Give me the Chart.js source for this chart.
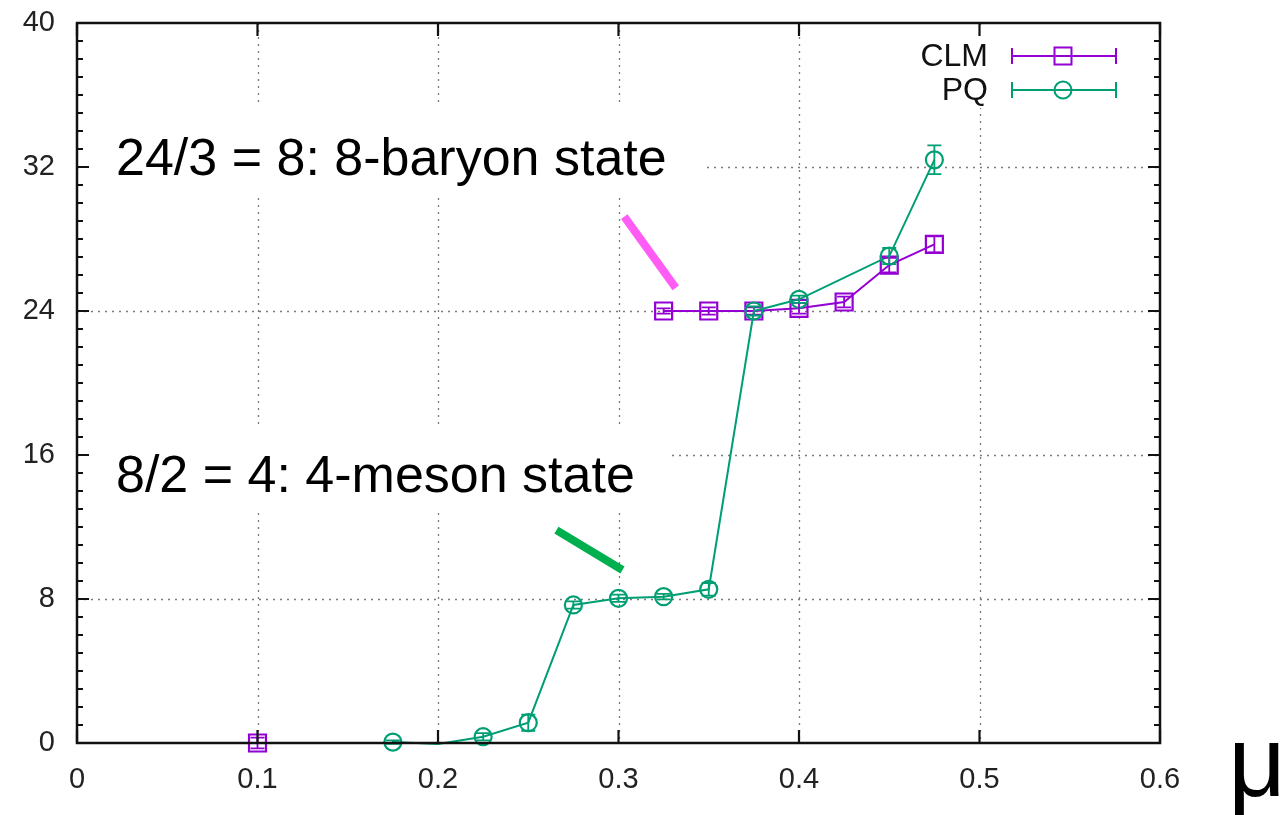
<!DOCTYPE html>
<html>
<head>
<meta charset="utf-8">
<title>CLM vs PQ number density</title>
<script src="https://cdn.jsdelivr.net/npm/chart.js@4.4.1/dist/chart.umd.min.js"></script>
<style>
  html, body { margin: 0; padding: 0; background: #fff; }
  canvas { display: block; }
</style>
</head>
<body>
<canvas id="densityChart" width="1284" height="815"></canvas>
<script>
(function() {
  'use strict';

  // Chemical potential and measured value per method, with error sizes
  const muCLM  = [0.1, 0.325, 0.35, 0.375, 0.4, 0.425, 0.45, 0.475];
  const valCLM = [0.0, 24.0, 24.0, 24.0, 24.15, 24.5, 26.55, 27.7];
  const errCLM = [0.3, 0.15, 0.2, 0.2, 0.3, 0.3, 0.4, 0.45];

  const muPQ  = [0.175, 0.2, 0.225, 0.25, 0.275, 0.3, 0.325, 0.35, 0.375, 0.4, 0.45, 0.475];
  const valPQ = [0.05, -0.05, 0.35, 1.13, 7.67, 8.04, 8.13, 8.54, 24.0, 24.65, 27.05, 32.4];
  const errPQ = [0.1, 0.05, 0.2, 0.45, 0.2, 0.2, 0.15, 0.35, 0.25, 0.2, 0.45, 0.8];

  const xTicks = [0, 0.1, 0.2, 0.3, 0.4, 0.5, 0.6];
  const yTicks = [0, 8, 16, 24, 32, 40];

  const PURPLE = '#9400d3';
  const GREEN = '#009e73';
  const FONT = '"Liberation Sans", Arial, Helvetica, sans-serif';

  const toPoints = (xs, ys, es) => xs.map((x, i) => ({ x: x, y: ys[i], err: es[i] }));

  // gnuplot-style: hide markers that fall outside the y range
  const markerRadius = r => ctx => (ctx.raw && ctx.raw.y < 0 ? 0 : r);
  // no line across the jump between separate runs
  const skipWideGaps = ctx => (ctx.p1.parsed.x - ctx.p0.parsed.x > 0.1 ? 'rgba(0,0,0,0)' : undefined);

  // Text annotations: text, left x, baseline y, white box behind it
  const notes = [
    { text: '24/3 = 8: 8-baryon state', x: 116, y: 175, box: [82, 105, 620, 88] },
    { text: '8/2 = 4: 4-meson state', x: 116, y: 492, box: [82, 426, 588, 87] }
  ];

  // Pointer strokes, given in data units
  const pointers = [
    { color: '#ff5cf6', from: [0.3032, 29.24], to: [0.3317, 25.28] },
    { color: '#00b04f', from: [0.2656, 11.83], to: [0.3022, 9.61] }
  ];

  const decorations = {
    id: 'decorations',
    beforeDatasetsDraw(chart) {
      const { ctx, chartArea: a, scales: { x, y } } = chart;
      ctx.save();
      // dotted grid at the major ticks
      ctx.strokeStyle = '#7a7a7a';
      ctx.lineWidth = 1.3;
      ctx.setLineDash([2, 5]);
      xTicks.slice(1, -1).forEach(v => {
        const px = Math.round(x.getPixelForValue(v)) + 0.5;
        ctx.beginPath(); ctx.moveTo(px, a.top); ctx.lineTo(px, a.bottom); ctx.stroke();
      });
      yTicks.slice(1, -1).forEach(v => {
        const py = Math.round(y.getPixelForValue(v)) + 0.5;
        ctx.beginPath(); ctx.moveTo(a.left, py); ctx.lineTo(a.right, py); ctx.stroke();
      });
      ctx.setLineDash([]);
      // white boxes behind the labels and the key
      ctx.fillStyle = '#fff';
      notes.forEach(n => ctx.fillRect(n.box[0], n.box[1], n.box[2], n.box[3]));
      ctx.fillRect(895, a.top + 3, 235, 82);
      ctx.restore();
    },
    afterDatasetsDraw(chart) {
      const { ctx, chartArea: a, scales: { x, y } } = chart;
      ctx.save();

      // error bars for every visible point
      chart.data.datasets.forEach((ds, di) => {
        const meta = chart.getDatasetMeta(di);
        ctx.strokeStyle = ds.borderColor;
        ctx.lineWidth = 1.8;
        meta.data.forEach((el, i) => {
          const p = ds.data[i];
          if (p.y < 0) return;
          const top = y.getPixelForValue(p.y + p.err);
          const bot = y.getPixelForValue(p.y - p.err);
          ctx.beginPath();
          ctx.moveTo(el.x, top); ctx.lineTo(el.x, bot);
          ctx.moveTo(el.x - 7, top); ctx.lineTo(el.x + 7, top);
          ctx.moveTo(el.x - 7, bot); ctx.lineTo(el.x + 7, bot);
          ctx.stroke();
        });
      });

      // frame
      ctx.strokeStyle = '#111';
      ctx.lineWidth = 2.5;
      ctx.strokeRect(a.left, a.top, a.right - a.left, a.bottom - a.top);

      // inward ticks: y major every 8, minor every 1, x major every 0.1
      ctx.lineWidth = 2.2;
      ctx.beginPath();
      for (let v = 0; v <= 40; v++) {
        const py = y.getPixelForValue(v);
        const len = v % 8 === 0 ? 12 : 6;
        ctx.moveTo(a.left, py); ctx.lineTo(a.left + len, py);
        ctx.moveTo(a.right, py); ctx.lineTo(a.right - len, py);
      }
      xTicks.forEach(v => {
        const px = x.getPixelForValue(v);
        ctx.moveTo(px, a.bottom); ctx.lineTo(px, a.bottom - 13);
        ctx.moveTo(px, a.top); ctx.lineTo(px, a.top + 13);
      });
      ctx.stroke();

      // pointer strokes
      ctx.lineWidth = 8;
      ctx.lineCap = 'butt';
      pointers.forEach(p => {
        ctx.strokeStyle = p.color;
        ctx.beginPath();
        ctx.moveTo(x.getPixelForValue(p.from[0]), y.getPixelForValue(p.from[1]));
        ctx.lineTo(x.getPixelForValue(p.to[0]), y.getPixelForValue(p.to[1]));
        ctx.stroke();
      });

      // annotation text
      ctx.fillStyle = '#000';
      ctx.font = '52px ' + FONT;
      ctx.textAlign = 'left';
      ctx.textBaseline = 'alphabetic';
      notes.forEach(n => ctx.fillText(n.text, n.x, n.y));

      // key
      const keys = [
        { label: 'CLM', color: PURPLE, shape: 'square', y: 56 },
        { label: 'PQ', color: GREEN, shape: 'circle', y: 90 }
      ];
      ctx.font = '32px ' + FONT;
      ctx.textAlign = 'right';
      ctx.textBaseline = 'middle';
      keys.forEach(k => {
        ctx.fillStyle = '#111';
        ctx.fillText(k.label, 988, k.y + 1);
        ctx.strokeStyle = k.color;
        ctx.lineWidth = 2;
        ctx.beginPath();
        ctx.moveTo(1012, k.y); ctx.lineTo(1116, k.y);
        ctx.moveTo(1012, k.y - 8); ctx.lineTo(1012, k.y + 8);
        ctx.moveTo(1116, k.y - 8); ctx.lineTo(1116, k.y + 8);
        ctx.stroke();
        ctx.beginPath();
        if (k.shape === 'square') {
          ctx.rect(1054.5, k.y - 8.5, 17, 17);
        } else {
          ctx.arc(1063, k.y, 8.5, 0, Math.PI * 2);
        }
        ctx.stroke();
      });

      // axis title
      ctx.fillStyle = '#000';
      ctx.font = '100px ' + FONT;
      ctx.textAlign = 'center';
      ctx.textBaseline = 'alphabetic';
      ctx.fillText('\u03bc', 1257, 796);

      ctx.restore();
    }
  };

  new Chart(document.getElementById('densityChart'), {
    type: 'line',
    data: {
      datasets: [
        {
          label: 'CLM',
          data: toPoints(muCLM, valCLM, errCLM),
          borderColor: PURPLE,
          backgroundColor: 'rgba(0,0,0,0)',
          borderWidth: 2,
          pointStyle: 'rect',
          pointRadius: markerRadius(12),
          pointBorderWidth: 2.2,
          pointBorderColor: PURPLE,
          pointBackgroundColor: 'rgba(0,0,0,0)',
          segment: { borderColor: skipWideGaps },
          clip: false,
          order: 1
        },
        {
          label: 'PQ',
          data: toPoints(muPQ, valPQ, errPQ),
          borderColor: GREEN,
          backgroundColor: 'rgba(0,0,0,0)',
          borderWidth: 2,
          pointStyle: 'circle',
          pointRadius: markerRadius(8.5),
          pointBorderWidth: 2.2,
          pointBorderColor: GREEN,
          pointBackgroundColor: 'rgba(0,0,0,0)',
          segment: { borderColor: skipWideGaps },
          clip: false,
          order: 0
        }
      ]
    },
    options: {
      responsive: false,
      animation: false,
      layout: { padding: { top: 23, right: 124, left: 0, bottom: 0 }, autoPadding: false },
      plugins: {
        legend: { display: false },
        tooltip: { enabled: false }
      },
      scales: {
        x: {
          type: 'linear',
          min: 0,
          max: 0.6,
          afterBuildTicks: s => { s.ticks = xTicks.map(v => ({ value: v })); },
          afterFit: s => { s.height = 72; s.paddingLeft = 0; s.paddingRight = 0; },
          grid: { display: false },
          border: { display: false },
          ticks: {
            color: '#222',
            padding: 12,
            maxRotation: 0,
            font: { family: FONT, size: 29 },
            callback: v => (v === 0 ? '0' : v.toFixed(1))
          }
        },
        y: {
          type: 'linear',
          min: 0,
          max: 40,
          afterBuildTicks: s => { s.ticks = yTicks.map(v => ({ value: v })); },
          afterFit: s => { s.width = 77; s.paddingTop = 0; s.paddingBottom = 0; },
          grid: { display: false },
          border: { display: false },
          ticks: {
            color: '#222',
            padding: 14,
            font: { family: FONT, size: 29 }
          }
        }
      }
    },
    plugins: [decorations]
  });
})();
</script>
</body>
</html>
